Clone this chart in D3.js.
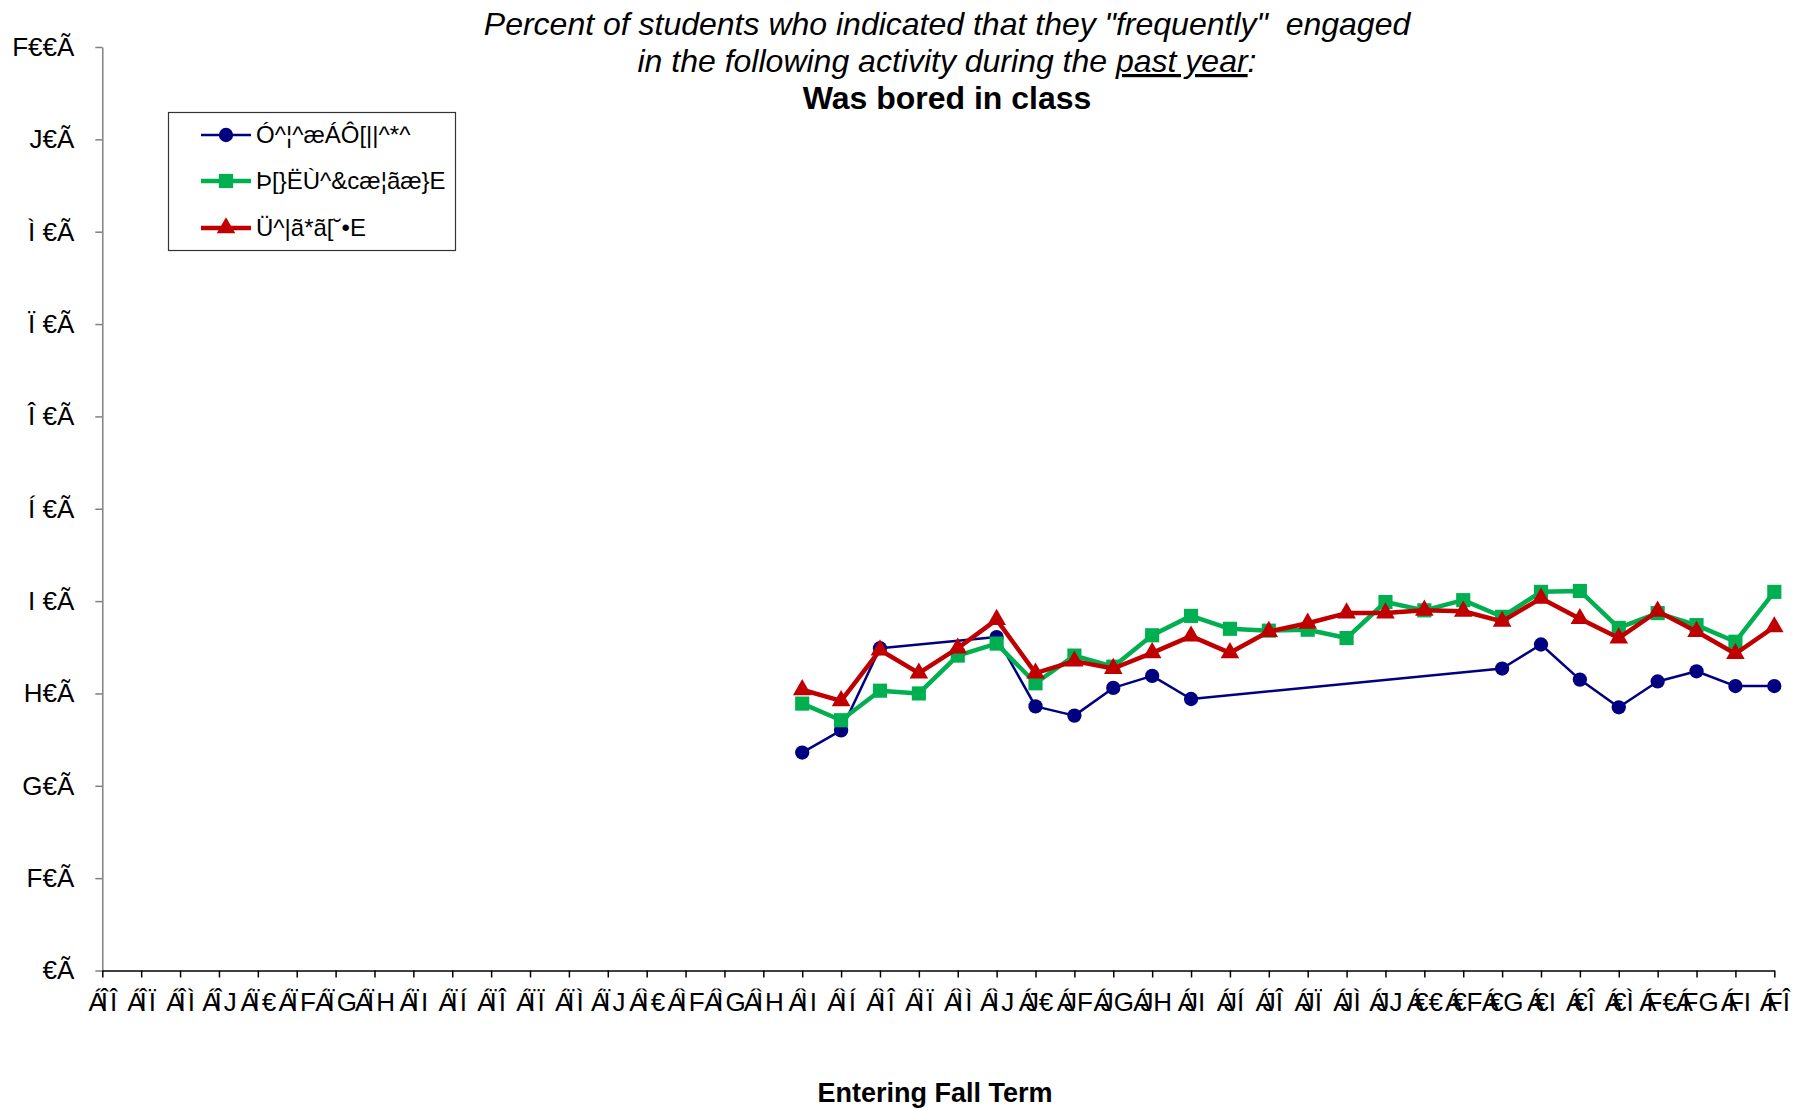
<!DOCTYPE html>
<html><head><meta charset="utf-8">
<script src="https://cdn.jsdelivr.net/npm/d3@7"></script>
<style>
html,body{margin:0;padding:0;background:#fff;}
svg{display:block;font-family:"Liberation Sans",Arial,sans-serif;}
text{white-space:pre;}
</style></head>
<body><svg id="chart" width="1803" height="1108"></svg>
<script>
// ---- data ----
const categories = ["1966","1967","1968","1969","1970","1971","1972","1973","1974","1975","1976","1977","1978","1979","1980","1981","1982","1983","1984","1985","1986","1987","1988","1989","1990","1991","1992","1993","1994","1995","1996","1997","1998","1999","2000","2001","2002","2004","2006","2008","2010","2012","2014","2016"];
const xTickLabels = ["ÁÎÎ","ÁÎÏ","ÁÎÌ","ÁÎJ","ÁÏ€","ÁÏF","ÁÏG","ÁÏH","ÁÏI","ÁÏÍ","ÁÏÎ","ÁÏÏ","ÁÏÌ","ÁÏJ","ÁÌ€","ÁÌF","ÁÌG","ÁÌH","ÁÌI","ÁÌÍ","ÁÌÎ","ÁÌÏ","ÁÌÌ","ÁÌJ","ÁJ€","ÁJF","ÁJG","ÁJH","ÁJI","ÁJÍ","ÁJÎ","ÁJÏ","ÁJÌ","ÁJJ","Á€€","Á€F","Á€G","Á€I","Á€Î","Á€Ì","ÁF€","ÁFG","ÁFI","ÁFÎ"];
const yTicks = [0,10,20,30,40,50,60,70,80,90,100];
const yTickLabels = ["€Ã","F€Ã","G€Ã","H€Ã","I€Ã","Í€Ã","Î€Ã","Ï€Ã","Ì€Ã","J€Ã","F€€Ã"];
const dataCategories = ["1984","1985","1986","1987","1988","1989","1990","1991","1992","1993","1994","1995","1996","1997","1998","1999","2000","2001","2002","2004","2006","2008","2010","2012","2014","2016"];
const seriesNames = ["Ó^¦^æÁÔ[||^*^","Þ[}ËÙ^&cæ¦ãæ}E","Ü^|ã*ã[˘•E"];
const bereaValues = [23.6,26.0,34.9,null,null,36.1,28.6,27.6,30.6,31.9,29.4,null,null,null,null,null,null,null,32.7,35.3,31.5,28.5,31.3,32.4,30.8,30.8];
const nonsectValues = [28.9,27.1,30.3,30.0,34.1,35.4,31.1,34.1,32.9,36.3,38.4,37.0,36.8,36.9,36.0,39.9,39.0,40.1,38.3,41.0,41.1,37.1,38.7,37.4,35.6,41.0];
const religValues = [30.4,29.2,34.7,32.2,34.9,38.0,32.2,33.5,32.7,34.4,36.2,34.4,36.7,37.6,38.7,38.7,39.0,38.9,37.8,40.3,38.1,36.0,38.9,36.7,34.3,37.2];
const titleLine1 = "Percent of students who indicated that they \"frequently\"  engaged";
const titleLine2a = "in the following activity during the ";
const titleLine2b = "past year";
const titleLine2c = ":";
const titleLine3 = "Was bored in class";
const xAxisTitle = "Entering Fall Term";

// ---- layout ----
const svg = d3.select("#chart");
const L = 102.3, R = 1774.3, T = 47, B = 970.5;
const FS = 26;
const x = d3.scalePoint().domain(categories).range([L, R]);
const y = d3.scaleLinear().domain([0, 100]).range([B, T]);
const narrow = new Set(["I","Ì","Ï","Î","Í"]);

function fillGlyphs(textSel, str, overlapFirst) {
  textSel.text(null);
  const chars = Array.from(str);
  chars.forEach((ch, i) => {
    let dx = 0;
    if (i > 0 && narrow.has(chars[i-1])) dx += 0.278 * FS;
    if (overlapFirst && i === 1) dx -= (narrow.has(ch) ? 0.2 : 0.39) * FS;
    if (overlapFirst && i === 2 && narrow.has(chars[1])) dx -= 0.2 * FS;
    textSel.append("tspan").attr("dx", dx).text(ch);
  });
}

// title
const title = svg.append("g").attr("text-anchor", "middle").attr("fill", "#000");
title.append("text").attr("x", 947).attr("y", 35).attr("font-size", 32).attr("font-style", "italic").text(titleLine1);
const t2 = title.append("text").attr("x", 947).attr("y", 72).attr("font-size", 32).attr("font-style", "italic");
t2.append("tspan").text(titleLine2a);
t2.append("tspan").attr("text-decoration", "underline").text(titleLine2b);
t2.append("tspan").text(titleLine2c);
title.append("text").attr("x", 947).attr("y", 109).attr("font-size", 32).attr("font-weight", "bold").text(titleLine3);

// y axis
const yAxis = svg.append("g").attr("transform", `translate(${L},0)`)
  .call(d3.axisLeft(y).tickValues(yTicks).tickSize(7).tickSizeOuter(0).tickPadding(21)
    .tickFormat((d, i) => yTickLabels[i]));
yAxis.select(".domain").attr("stroke", "#808080").attr("stroke-width", 1.5);
yAxis.selectAll(".tick line").attr("stroke", "#808080").attr("stroke-width", 1.5);
yAxis.selectAll(".tick text").attr("font-size", FS).attr("font-family", "Liberation Sans, Arial, sans-serif")
  .attr("fill", "#000").each(function(d, i) { fillGlyphs(d3.select(this), yTickLabels[i], false); });

// x axis
const xAxis = svg.append("g").attr("transform", `translate(0,${B})`)
  .call(d3.axisBottom(x).tickSize(7).tickSizeOuter(0).tickPadding(10)
    .tickFormat((d, i) => xTickLabels[i]));
xAxis.select(".domain").attr("stroke", "#000").attr("stroke-width", 1.5);
xAxis.selectAll(".tick line").attr("stroke", "#000").attr("stroke-width", 1.5);
xAxis.selectAll(".tick text").attr("font-size", FS).attr("font-family", "Liberation Sans, Arial, sans-serif")
  .attr("fill", "#000").attr("dy", "0.9em")
  .each(function(d, i) { fillGlyphs(d3.select(this), xTickLabels[i], true); });

svg.append("text").attr("x", 935).attr("y", 1102).attr("text-anchor", "middle")
  .attr("font-size", 27).attr("font-weight", "bold").text(xAxisTitle);

// series
const series = [
  {name: seriesNames[0], values: bereaValues, color: "#000080", width: 2.5, marker: "circle"},
  {name: seriesNames[1], values: nonsectValues, color: "#00B050", width: 4.5, marker: "square"},
  {name: seriesNames[2], values: religValues, color: "#C00000", width: 4.5, marker: "triangle"}
];
const symbolFor = m => m === "circle" ? d3.symbol(d3.symbolCircle, 160)
  : m === "square" ? d3.symbol(d3.symbolSquare, 200) : d3.symbol(d3.symbolTriangle, 150);

series.forEach(s => {
  const pts = dataCategories.map((c, i) => ({c, v: s.values[i]})).filter(p => p.v !== null);
  const line = d3.line().x(p => x(p.c)).y(p => y(p.v));
  const g = svg.append("g");
  g.append("path").datum(pts).attr("d", line).attr("fill", "none")
    .attr("stroke", s.color).attr("stroke-width", s.width).attr("stroke-linejoin", "round");
  g.selectAll("path.m").data(pts).join("path").attr("class", "m")
    .attr("d", symbolFor(s.marker)())
    .attr("transform", p => `translate(${x(p.c)},${y(p.v)})`)
    .attr("fill", s.color);
});

// legend
const lg = svg.append("g");
lg.append("rect").attr("x", 168.5).attr("y", 112.5).attr("width", 287).attr("height", 138)
  .attr("fill", "#fff").attr("stroke", "#333").attr("stroke-width", 1.2);
const rowY = [135, 181, 228];
series.forEach((s, i) => {
  const ry = rowY[i];
  lg.append("line").attr("x1", 201).attr("x2", 251).attr("y1", ry).attr("y2", ry)
    .attr("stroke", s.color).attr("stroke-width", s.width);
  lg.append("path").attr("d", symbolFor(s.marker)()).attr("transform", `translate(226,${ry})`).attr("fill", s.color);
  lg.append("text").attr("x", 256).attr("y", ry).attr("dy", "0.35em").attr("font-size", 24).text(s.name);
});
</script>
</body></html>
